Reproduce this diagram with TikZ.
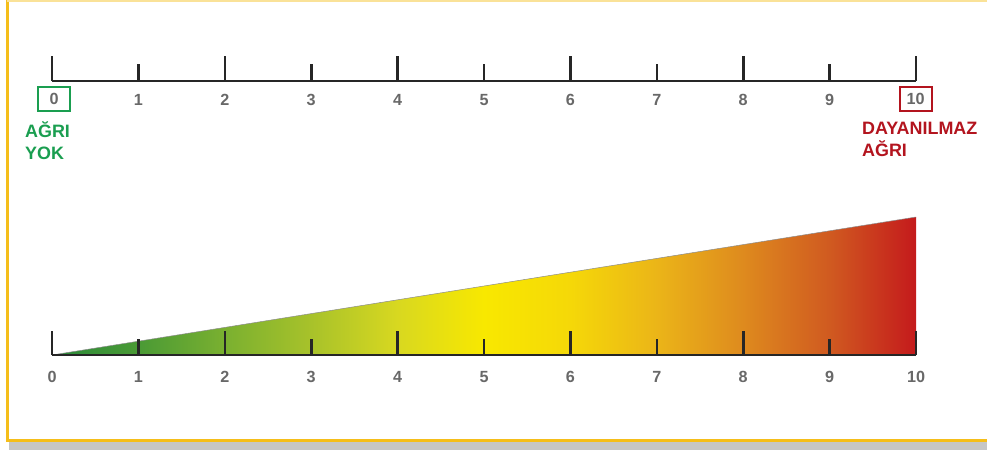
\documentclass[tikz,border=0pt]{standalone}
\usepackage{fontspec}
\setmainfont{Liberation Sans}
\usepackage{xcolor}
\usepackage{tikz}
\usetikzlibrary{positioning}

\definecolor{okgreen}{HTML}{1A9E50}
\definecolor{badred}{HTML}{B3141E}
\definecolor{framey}{HTML}{F5BE1A}
\definecolor{numgray}{HTML}{686868}
\pgfdeclarehorizontalshading{painshade}{100bp}{%
  color(0bp)=(rgb,255:red,42;green,138;blue,58);
  color(25bp)=(rgb,255:red,42;green,138;blue,58);
  color(30bp)=(rgb,255:red,74;green,154;blue,53);
  color(35bp)=(rgb,255:red,122;green,176;blue,48);
  color(40bp)=(rgb,255:red,168;green,194;blue,42);
  color(45bp)=(rgb,255:red,216;green,216;blue,32);
  color(50bp)=(rgb,255:red,248;green,232;blue,0);
  color(55bp)=(rgb,255:red,245;green,216;blue,8);
  color(60bp)=(rgb,255:red,235;green,181;blue,24);
  color(65bp)=(rgb,255:red,222;green,138;blue,30);
  color(70bp)=(rgb,255:red,208;green,90;blue,32);
  color(75bp)=(rgb,255:red,196;green,26;blue,28);
  color(100bp)=(rgb,255:red,196;green,26;blue,28)}

\tikzset{
  axisline/.style={line width=1.3mm, black!85},
  num/.style={text=numgray, font=\bfseries\fontsize{23}{27}\selectfont},
  endbox/.style={draw, line width=1mm, minimum width=16mm, minimum height=12mm, inner sep=0pt},
  endlabel/.style={font=\bfseries\fontsize{25.5}{31}\selectfont, align=left, inner sep=0pt}
}

\begin{document}
\begin{tikzpicture}[x=0.5mm,y=-0.5mm]
  \useasboundingbox (0,0) rectangle (987,450);
  % frame
  \fill[gray!45] (9,442) rectangle (987,450);
  \draw[framey, line width=1.5mm] (7,0) -- (7,440) -- (987,440);
  \draw[framey!45, line width=0.8mm] (7,1) -- (987,1);
  \def\dx{86.4}
  % upper scale
  \draw[axisline] (52,81) -- (916,81);
  \foreach \i in {0,...,10} {
    \pgfmathsetmacro{\xx}{52+\dx*\i}
    \ifodd\i
      \draw[axisline] (\xx,81) -- (\xx,64);
    \else
      \draw[axisline] (\xx,81) -- (\xx,56);
    \fi
    \ifnum\i>0 \ifnum\i<10
      \node[num] (t\i) at (\xx,100) {\i};
    \fi\fi
  }
  \node[endbox, draw=okgreen, num] (t0) at (54,99) {0};
  \node[endbox, draw=badred, num] (t10) at (915.5,99) {10};
  \node[endlabel, text=okgreen, anchor=north west] (nopain) at (25,122) {AĞRI\\YOK};
  \node[endlabel, text=badred, anchor=north west] (worst) at (862,122) {DAYANILMAZ\\AĞRI};
  % lower scale with the wedge
  \shade[shading=painshade] (52,355) -- (916,217) -- (916,355) -- cycle;
  \draw[black!45, line width=0.25mm] (52,355) -- (916,217);
  \draw[axisline] (52,355) -- (916,355);
  \foreach \i in {0,...,10} {
    \pgfmathsetmacro{\xx}{52+\dx*\i}
    \ifodd\i
      \draw[axisline] (\xx,355) -- (\xx,339);
    \else
      \draw[axisline] (\xx,355) -- (\xx,331);
    \fi
    \node[num] (b\i) at (\xx,377) {\i};
  }
\end{tikzpicture}
\end{document}
